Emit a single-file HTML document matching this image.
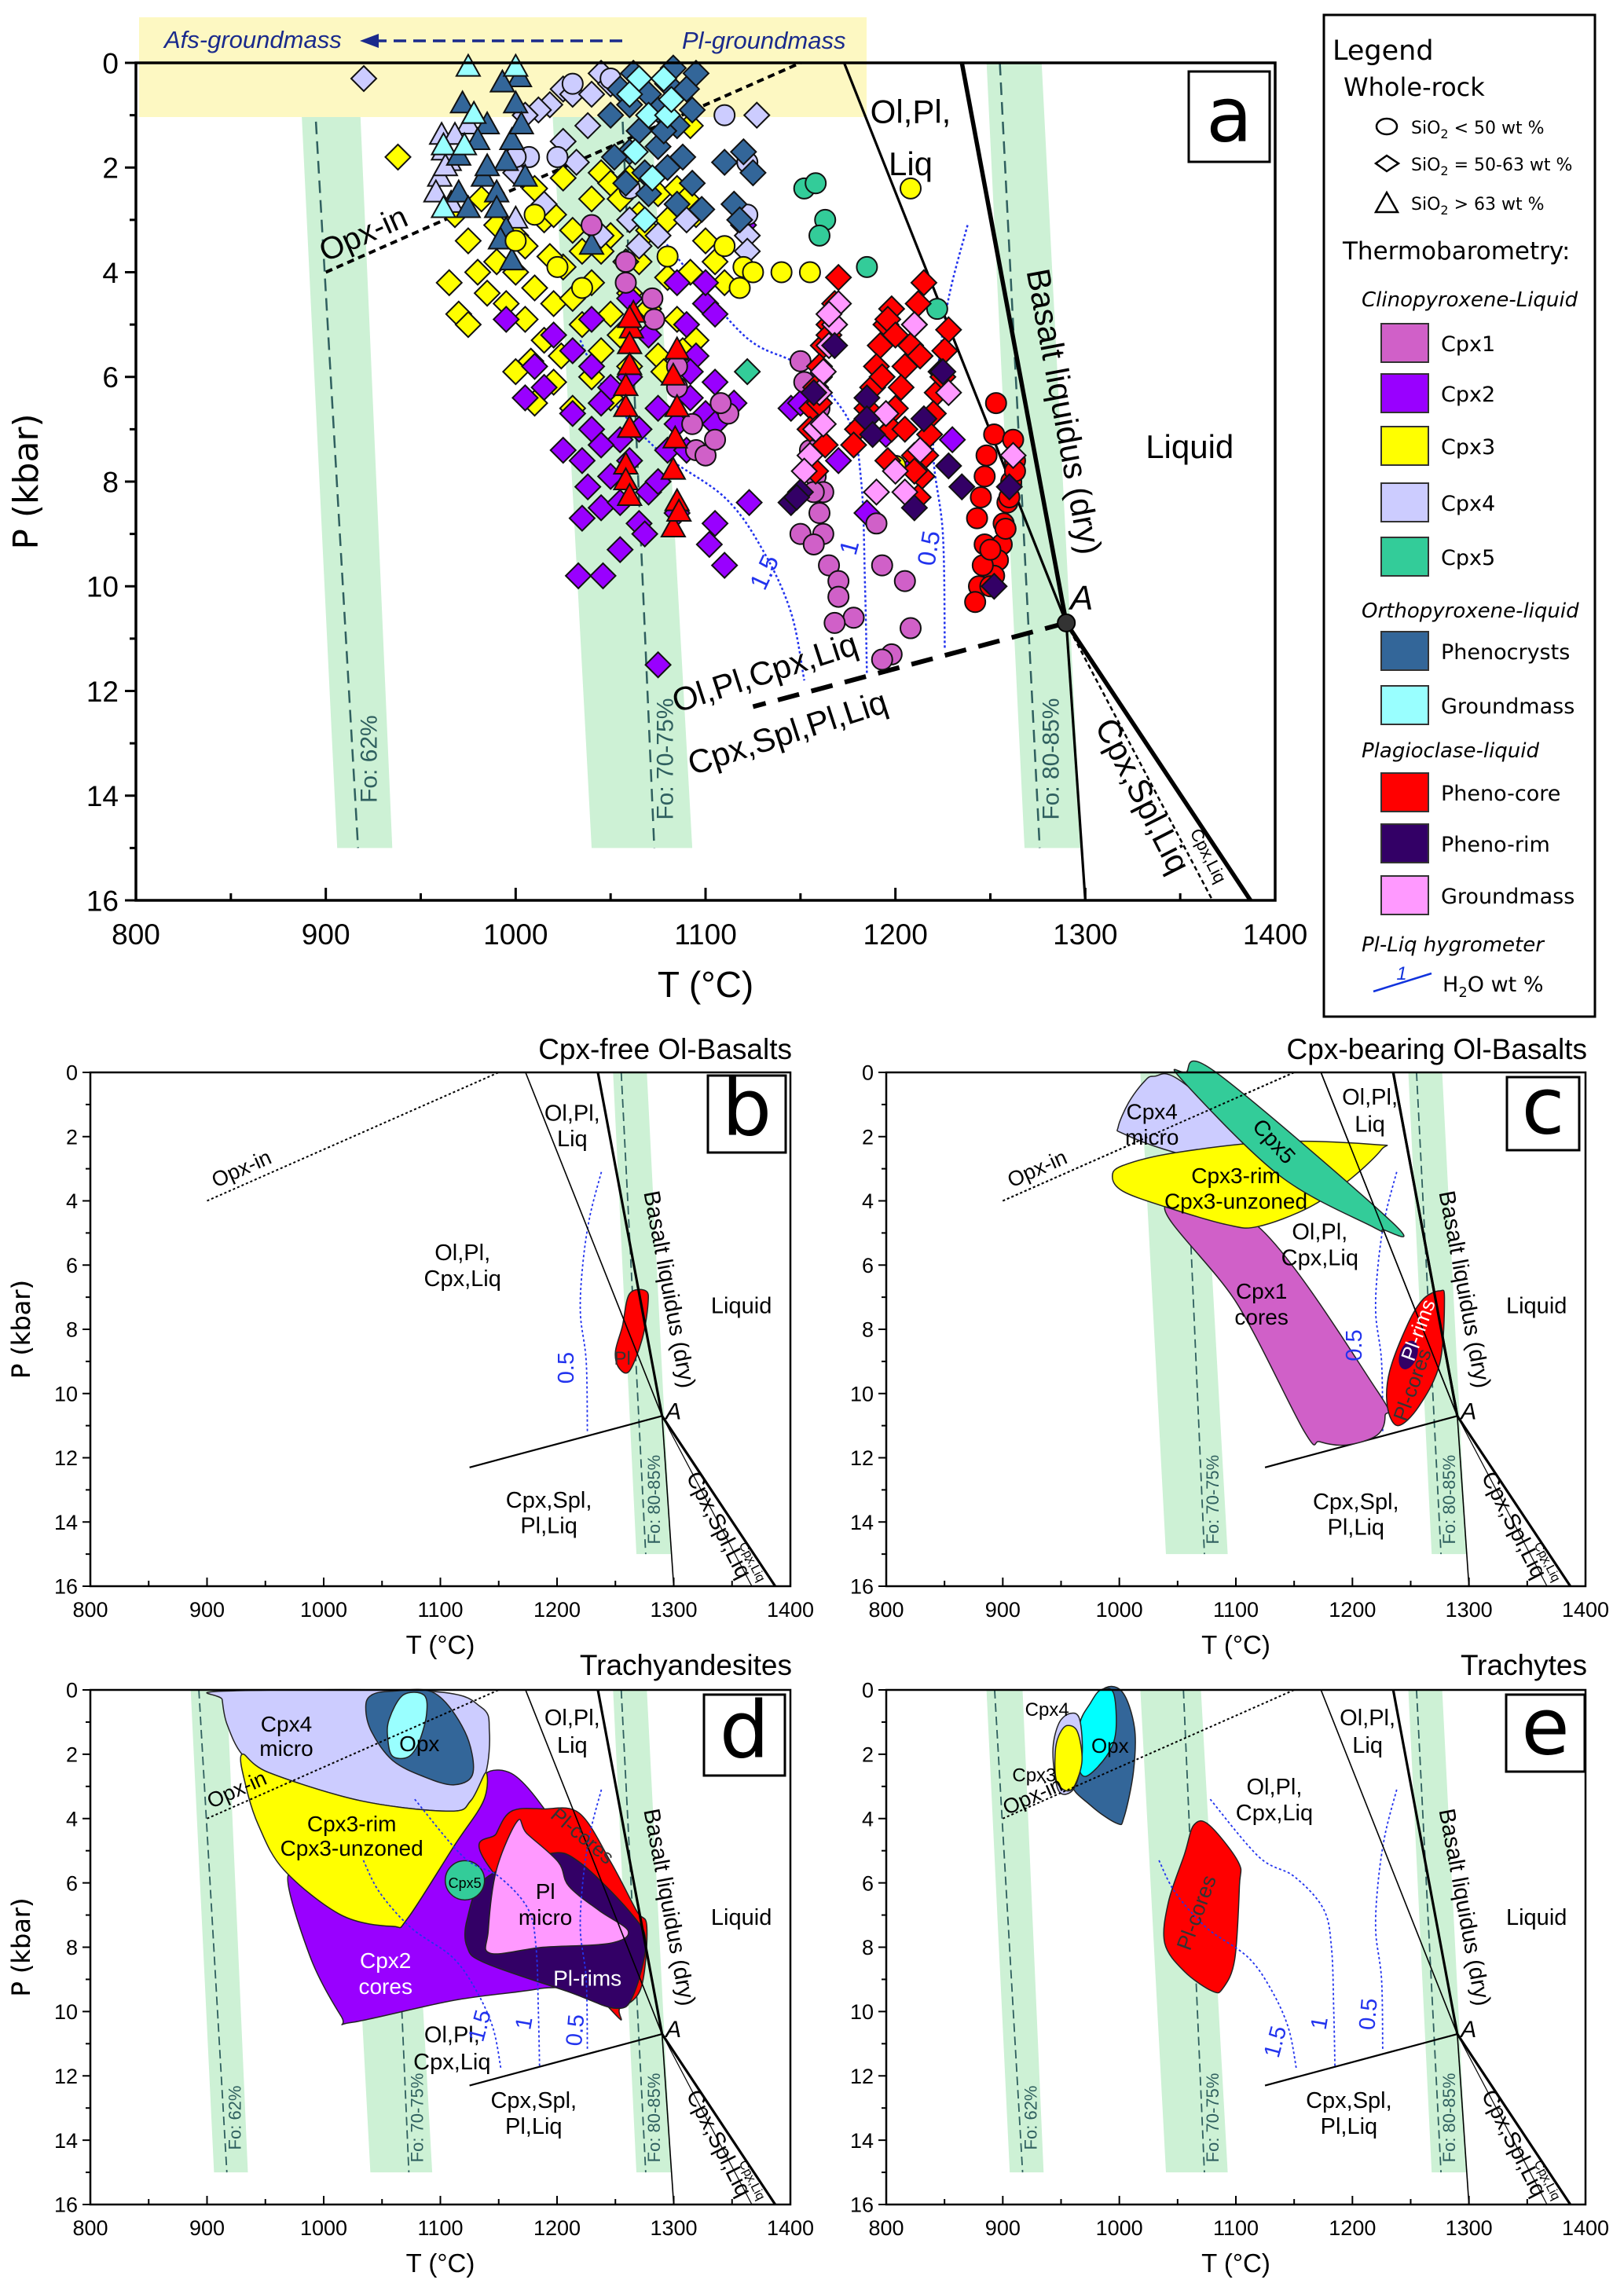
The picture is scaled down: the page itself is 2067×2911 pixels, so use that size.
<!DOCTYPE html>
<html><head><meta charset="utf-8"><style>
html,body{margin:0;padding:0;background:#fff}
svg{display:block;font-family:"Liberation Sans",Arial,sans-serif}
</style></head><body>
<svg id="fig" width="2067" height="2911" viewBox="0 0 2067 2911" xmlns="http://www.w3.org/2000/svg"></svg>
<script>
// ---------- data (T °C, P kbar) ----------
const cpx3Dia=[[938,1.8],[968,2.9],[975,3.4],[982,2.6],[990,3.1],[1000,3.3],[1010,2.4],[1015,3.0],[1020,2.9],[1025,2.2],[1030,3.2],[1040,2.6],[1045,2.1],[1050,2.3],[1055,2.6],[1060,2.2],[1065,2.9],[1070,3.2],[1075,2.5],[1080,3.0],[1085,2.4],[1090,2.6],[1095,2.9],[1100,3.4],[1105,3.8],[1110,4.2],[1092,1.2],[1080,4.1],[965,4.2],[970,4.8],[975,5.0],[985,4.4],[990,3.8],[995,4.6],[1000,4.0],[1005,4.9],[1010,4.3],[1015,5.3],[1020,4.6],[1025,3.9],[1030,4.5],[1035,5.0],[1040,4.2],[1045,5.5],[1050,4.8],[1055,5.2],[1060,4.4],[1065,3.8],[1070,4.7],[1075,5.6],[1085,4.9],[1095,5.3],[1100,4.6],[1000,5.9],[1010,6.5],[1020,6.1],[1030,6.6],[1040,6.0],[1050,6.4],[1060,5.8],[1045,3.6],[1035,3.6],[1050,3.3],[1078,5.9],[1088,5.5],[1024,5.6],[1008,5.7],[1005,3.5],[1018,3.7],[1058,3.8],[980,4.0],[1092,4.0]];
const cpx2Dia=[[1030,5.5],[1040,5.8],[1050,6.2],[1060,6.0],[1030,6.7],[1040,7.0],[1045,6.5],[1055,7.2],[1060,7.6],[1065,7.0],[1035,7.6],[1025,7.4],[1050,7.9],[1070,8.2],[1065,8.8],[1045,8.5],[1035,8.7],[1055,9.3],[1033,9.8],[1046,9.8],[1075,8.0],[1080,7.4],[1075,6.6],[1070,5.2],[1085,6.9],[1090,7.4],[1092,6.4],[1100,6.7],[1105,6.1],[1095,5.6],[1090,5.0],[1100,4.6],[1105,4.8],[1085,4.2],[1100,4.2],[1120,3.1],[1105,6.9],[1115,6.5],[1123,8.4],[1105,8.8],[1102,9.2],[1110,9.6],[1145,6.6],[1150,6.5],[1160,6.0],[1170,7.6],[1185,8.6],[1195,7.1],[1210,7.7],[1230,7.2],[1075,11.5],[1010,5.8],[1005,6.4],[1015,6.2],[1055,8.4],[1060,4.5],[995,4.9],[1045,7.3],[1038,8.1],[1068,9.0],[1085,8.6],[1040,4.9],[1092,5.9],[1020,5.2]];
const cpx4Dia=[[920,0.3],[1025,0.5],[1030,0.6],[1038,1.2],[1045,0.2],[1050,0.4],[1018,0.8],[1025,1.5],[1032,1.9],[1012,0.9],[1005,1.0],[1127,1.0],[1122,3.3],[1122,3.6],[1060,3.0],[1065,3.5],[1045,3.3],[1075,3.3],[1090,3.0],[1040,0.6],[1015,2.7],[1000,2.1]];
const cpx4Tri=[[961,1.4],[962,1.7],[965,1.9],[960,2.2],[958,2.5],[966,2.7],[963,2.0],[975,1.2],[968,1.4],[1000,3.0]];
const cpx4Cir=[[1030,0.4],[1050,0.3],[1022,1.8],[1007,1.8],[1000,1.8],[1122,1.9],[1122,2.9],[1110,1.0],[1060,2.4]];
const opxPhTri=[[972,0.8],[978,1.0],[970,1.8],[983,2.2],[990,2.5],[995,1.9],[998,1.5],[1000,0.8],[1002,0.3],[993,0.4],[985,1.2],[970,2.5],[975,2.8],[990,2.8],[995,3.2],[998,3.8],[985,2.0],[1005,2.2],[980,1.5],[992,3.4],[1003,1.2],[1040,3.5]];
const opxPhDia=[[1050,1.0],[1055,0.5],[1060,0.8],[1065,1.3],[1070,0.6],[1075,0.9],[1080,0.4],[1085,1.2],[1090,0.5],[1093,0.9],[1060,1.7],[1068,2.1],[1075,1.6],[1080,2.0],[1088,1.8],[1093,2.3],[1070,2.5],[1058,2.3],[1085,2.7],[1120,1.7],[1125,2.1],[1115,2.7],[1118,3.0],[1062,0.2],[1078,1.3],[1052,1.8],[1083,0.1],[1095,0.2],[1098,2.8],[1110,1.9]];
const opxGmTri=[[975,0.1],[962,1.6],[973,1.6],[962,2.8],[978,1.0],[1000,0.1]];
const opxGmDia=[[1060,0.6],[1065,0.3],[1070,1.0],[1078,0.3],[1080,1.0],[1063,1.7],[1072,2.2],[1082,0.7],[1068,3.0]];
const cpx1Cir=[[1040,3.1],[1058,3.8],[1058,4.2],[1072,4.5],[1073,4.9],[1085,6.2],[1093,6.9],[1095,7.4],[1100,7.5],[1105,7.2],[1112,6.7],[1150,5.7],[1152,6.1],[1155,7.4],[1158,7.9],[1160,8.6],[1162,9.0],[1165,9.6],[1170,9.9],[1178,10.6],[1168,10.7],[1190,8.8],[1193,9.6],[1205,9.9],[1198,11.3],[1208,10.8],[1193,11.4],[1162,8.2],[1160,6.6],[1157,8.2],[1108,6.5],[1085,5.8],[1170,10.2],[1150,9.0],[1157,9.2]];
const cpx3Cir=[[1208,2.4],[1110,3.5],[1000,3.4],[1022,3.9],[1080,3.7],[1120,3.9],[1125,4.0],[1118,4.3],[1140,4.0],[1155,4.0],[1200,7.7],[1010,2.9],[1035,4.3]];
const cpx5Cir=[[1152,2.4],[1158,2.3],[1163,3.0],[1160,3.3],[1185,3.9],[1222,4.7]];
const cpx5Dia=[[1122,5.9]];
const plCoreDia=[[1170,4.1],[1168,4.6],[1165,5.0],[1162,5.4],[1160,5.8],[1158,6.2],[1156,6.6],[1155,7.0],[1160,6.5],[1163,7.3],[1158,7.8],[1165,5.2],[1198,4.7],[1195,5.0],[1192,5.4],[1190,5.8],[1188,6.2],[1185,6.6],[1180,7.0],[1178,7.3],[1196,4.9],[1193,6.0],[1200,5.2],[1215,4.2],[1212,4.6],[1210,5.0],[1208,5.4],[1205,5.8],[1203,6.2],[1200,6.6],[1198,7.0],[1196,7.6],[1210,7.5],[1205,7.0],[1213,5.6],[1228,5.1],[1226,5.5],[1224,5.9],[1222,6.3],[1220,6.7],[1218,7.1],[1216,7.5],[1214,7.9],[1212,8.3],[1225,6.0],[1210,7.8]];
const plCoreCir=[[1253,6.5],[1252,7.1],[1262,7.2],[1263,7.6],[1261,8.0],[1259,8.4],[1257,8.8],[1256,9.2],[1254,9.5],[1252,9.8],[1248,7.5],[1247,7.9],[1245,8.3],[1243,8.7],[1247,9.2],[1246,9.6],[1244,10.0],[1242,10.3],[1250,10.0],[1263,7.8],[1260,8.3],[1258,8.9],[1250,9.3]];
const plCoreTri=[[1062,4.8],[1061,5.1],[1060,5.4],[1060,5.8],[1058,6.2],[1058,6.6],[1060,7.0],[1058,7.7],[1058,8.0],[1060,8.3],[1085,5.5],[1083,6.0],[1085,6.6],[1084,7.2],[1083,7.8],[1085,8.4],[1083,8.9],[1086,8.6],[1060,4.9]];
const plRimDia=[[1157,6.3],[1145,8.4],[1150,8.2],[1185,6.4],[1185,6.8],[1188,7.1],[1215,6.8],[1210,8.5],[1225,5.9],[1228,7.7],[1235,8.1],[1260,8.1],[1252,10.0],[1168,5.4],[1148,8.3]];
const plGmDia=[[1170,4.6],[1168,5.0],[1165,5.4],[1162,5.9],[1160,6.3],[1158,7.0],[1155,7.5],[1152,7.8],[1162,6.9],[1195,6.7],[1210,5.0],[1200,7.8],[1213,7.4],[1228,6.3],[1205,8.2],[1262,7.5],[1190,8.2],[1165,4.8]];
// phase boundaries
const ptA=[1290,10.7];
const opxIn=[[900,4],[1150,0]];
const olPlLiq=[[1173,0],ptA];
const basaltLiq=[[1235,0],ptA];
const cpxSplLine=[ptA,[1300,16]];
const thickLow=[ptA,[1387,16]];
const cpxLiqLine=[ptA,[1367,16]];
const cpxBoundary=[ptA,[1125,12.3]];
const h2o05=[[1238,3.1],[1228,4.5],[1222,6.0],[1220,7.5],[1225,9.0],[1226,11.2]];
const h2o1=[[1078,3.4],[1120,5.2],[1150,5.8],[1175,6.8],[1182,8],[1184,10],[1185,11.7]];
const h2o15=[[1034,5.3],[1048,6.3],[1075,7.4],[1110,8.3],[1130,9.3],[1145,10.5],[1152,11.8]];
const fo62=[[886,0],[917,0],[935,15],[906,15]], fo62d=[[893,0],[917,15]];
const fo70=[[1018,0],[1070,0],[1093,15],[1040,15]], fo70d=[[1055,0],[1073,15]];
const fo80=[[1248,0],[1277,0],[1298,15],[1268,15]], fo80d=[[1255,0],[1276,15]];
// field polygons
const bPl=[[1262,6.9],[1276,6.8],[1278,7.2],[1273,8.3],[1262,9.3],[1253,9.2],[1250,8.7],[1256,7.9]];
const cCpx4=[[1030,0.12],[1054,0.3],[1132,2.8],[1128,3.06],[1110,3.08],[1039,2.4],[1003,1.9],[999,1.7],[1008,0.94],[1021,0.3]];
const cCpx3=[[1003,2.9],[1048,2.5],[1137,2.15],[1221,2.25],[1225,2.4],[1199,3.3],[1163,4.2],[1119,4.8],[1092,4.74],[1039,4.18],[1003,3.7],[994,3.25]];
const cCpx5=[[1057,0],[1083,0],[1235,4.7],[1226,4.9],[1217,4.8],[1137,3.2],[1053,0.2]];
const cCpx1=[[1039,4.18],[1119,4.8],[1221,9.9],[1228,10.7],[1221,11.3],[1195,11.6],[1172,11.5],[1159,11.2],[1101,7.2]];
const cPl=[[1261,7.05],[1275,6.8],[1279,7.05],[1275,9.05],[1257,10.4],[1239,11],[1230,10.4],[1232,9.3],[1248,7.8]];
const dCpx2=[[1139,2.6],[1161,2.6],[1185,3.5],[1200,4.5],[1220,7],[1210,9.0],[1183,9.3],[1112,9.65],[1024,10.34],[1015,10.15],[988,8.26],[970,5.73],[1015,7.0],[1059,7.35],[1072,7.1],[1112,4.84],[1137,3.45]];
const dCpx4=[[913,0.04],[1090,0.04],[1135,0.54],[1142,1.3],[1139,2.57],[1126,3.45],[1108,3.77],[1032,3.45],[953,2.57],[930,2.0],[917,1.05],[913,0.3]];
const dCpx3=[[930,2.0],[953,2.57],[1032,3.45],[1108,3.77],[1126,3.45],[1139,2.57],[1137,3.45],[1112,4.84],[1072,7.1],[1059,7.35],[1015,7.0],[966,5.6],[944,4.2],[933,2.95]];
const dOpx=[[1041,0.16],[1059,0.04],[1095,0.1],[1121,1.3],[1128,2.57],[1112,2.95],[1086,2.7],[1059,2.19],[1041,1.3],[1036,0.54]];
const dOpxGm=[[1068,0.16],[1086,0.16],[1088,0.8],[1081,1.68],[1072,2.09],[1059,2.06],[1055,1.55],[1056,0.92]];
const dPlCore=[[1161,3.77],[1188,3.7],[1219,3.83],[1246,5.35],[1268,6.86],[1277,7.37],[1272,9.27],[1254,9.9],[1245,9.9],[1139,5.35],[1148,4.46]];
const dPlRim=[[1192,5.1],[1219,5.35],[1264,6.97],[1276,7.88],[1265,9.52],[1250,9.9],[1210,9.39],[1139,8.5],[1123,8.0],[1123,7.12],[1139,5.85]];
const dPlMicro=[[1166,4.08],[1174,4.46],[1201,5.35],[1210,6.1],[1236,6.86],[1261,7.5],[1245,7.88],[1188,8.0],[1143,8.19],[1141,7.5],[1148,5.6]];
const eOpx=[[984,0.04],[1002,0.04],[1013,1.18],[1012,2.57],[1004,3.96],[998,4.15],[975,3.58],[958,2.82],[966,1.3]];
const eOpxGm=[[984,0],[995,0.1],[997,1.3],[989,2.06],[971,2.69],[964,2.19],[966,1.05],[975,0.42]];
const eCpx4=[[958,0.73],[966,0.92],[968,2.06],[961,3.07],[948,3.14],[943,1.93],[948,1.05]];
const eCpx3=[[955,1.11],[964,1.3],[968,2.19],[962,2.95],[955,3.14],[946,2.82],[945,1.93],[948,1.43]];
const ePl=[[1064,4.2],[1077,4.2],[1102,5.35],[1103,6.1],[1099,8.38],[1089,9.27],[1080,9.37],[1056,8.76],[1039,7.88],[1042,6.61],[1056,5.1]];
const xTicks=[800,900,1000,1100,1200,1300,1400];
const yTicks=[0,2,4,6,8,10,12,14,16];

// ---------- helpers ----------
const NS="http://www.w3.org/2000/svg";
const svg=document.getElementById('fig');
function mk(tag,attrs,parent,name,inter){
  const el=document.createElementNS(NS,tag);
  for(const k in attrs) el.setAttribute(k,attrs[k]);
  
  
  (parent||svg).appendChild(el);
  return el;
}
function txt(parent,x,y,s,size,opts,name){
  opts=opts||{};
  const a={x:x,y:y,'font-size':size,fill:opts.fill||'#000','text-anchor':opts.anchor||'middle'};
  if(opts.italic) a['font-style']='italic';
  if(opts.bold) a['font-weight']='bold';
  if(opts.rot!==undefined) a.transform='rotate('+opts.rot+' '+x+' '+y+')';
  if(opts.family) a['font-family']=opts.family;
  const t=mk('text',a,parent,name,false);
  t.textContent=s;
  return t;
}
const PANELS={
  a:{x0:173,x1:1623,y0:80,y1:1146,big:true},
  b:{x0:115,x1:1006,y0:1365,y1:2019},
  c:{x0:1128,x1:2018,y0:1365,y1:2019},
  d:{x0:115,x1:1006,y0:2151,y1:2806},
  e:{x0:1128,x1:2018,y0:2151,y1:2806}
};
function sx(p,T){return p.x0+(T-800)/600*(p.x1-p.x0);}
function sy(p,P){return p.y0+P/16*(p.y1-p.y0);}
function pts(p,arr){return arr.map(d=>sx(p,d[0]).toFixed(1)+','+sy(p,d[1]).toFixed(1)).join(' ');}
function smoothPath(p,arr){
  const q=arr.map(d=>[sx(p,d[0]),sy(p,d[1])]);
  let s='M'+q[0][0]+','+q[0][1];
  for(let i=0;i<q.length-1;i++){
    const p0=q[Math.max(0,i-1)],p1=q[i],p2=q[i+1],p3=q[Math.min(q.length-1,i+2)];
    const c1=[p1[0]+(p2[0]-p0[0])/6,p1[1]+(p2[1]-p0[1])/6];
    const c2=[p2[0]-(p3[0]-p1[0])/6,p2[1]-(p3[1]-p1[1])/6];
    s+=' C'+c1[0]+','+c1[1]+' '+c2[0]+','+c2[1]+' '+p2[0]+','+p2[1];
  }
  return s;
}
function closedSmooth(p,arr){
  const q=arr.map(d=>[sx(p,d[0]),sy(p,d[1])]);const n=q.length;
  let s='M'+q[0][0]+','+q[0][1];
  for(let i=0;i<n;i++){
    const p0=q[(i-1+n)%n],p1=q[i],p2=q[(i+1)%n],p3=q[(i+2)%n];
    const c1=[p1[0]+(p2[0]-p0[0])/6,p1[1]+(p2[1]-p0[1])/6];
    const c2=[p2[0]-(p3[0]-p1[0])/6,p2[1]-(p3[1]-p1[1])/6];
    s+=' C'+c1[0].toFixed(1)+','+c1[1].toFixed(1)+' '+c2[0].toFixed(1)+','+c2[1].toFixed(1)+' '+p2[0].toFixed(1)+','+p2[1].toFixed(1);
  }
  return s+'Z';
}
function line(g,p,seg,w,dash,name,col){
  const a={x1:sx(p,seg[0][0]),y1:sy(p,seg[0][1]),x2:sx(p,seg[1][0]),y2:sy(p,seg[1][1]),stroke:col||'#000','stroke-width':w};
  if(dash) a['stroke-dasharray']=dash;
  return mk('line',a,g,name,false);
}
function field(g,p,arr,fill,name,stroke){
  return mk('path',{d:closedSmooth(p,arr),fill:fill,stroke:stroke||'#222','stroke-width':1.5},g,name,false);
}

function axes(key,opts){
  const p=PANELS[key];const big=p.big;
  const g=mk('g',{},svg,'panel-'+key+'-axes',false);
  const fs=big?37:27;
  mk('rect',{x:p.x0,y:p.y0,width:p.x1-p.x0,height:p.y1-p.y0,fill:'none',stroke:'#000','stroke-width':big?3.5:2.5},g,'panel-'+key+'-frame',false);
  for(let T=800;T<=1400;T+=50){
    const maj=(T%100===0);
    mk('line',{x1:sx(p,T),x2:sx(p,T),y1:p.y1,y2:p.y1-(maj?(big?16:11):(big?9:7)),stroke:'#000','stroke-width':big?3:2},g,'x-tick',false);
  }
  for(let P=0;P<=16;P+=1){
    const maj=(P%2===0);
    mk('line',{x1:p.x0,x2:p.x0-(maj?(big?14:10):(big?8:6)),y1:sy(p,P),y2:sy(p,P),stroke:'#000','stroke-width':big?3:2},g,'y-tick',false);
  }
  xTicks.forEach(T=>txt(g,sx(p,T),p.y1+(big?56:39),String(T),fs,{},'x-tick-label'));
  yTicks.forEach(P=>txt(g,p.x0-(big?22:16),sy(p,P)+fs*0.36,String(P),fs,{anchor:'end'},'y-tick-label'));
  txt(g,(p.x0+p.x1)/2,p.y1+(big?123:86),'T (°C)',big?46:33,{},'x-axis-title');
  const yx=big?48:38, yy=(p.y0+p.y1)/2;
  txt(g,yx,yy,'P (kbar)',big?44:32,{rot:-90,family:'"DejaVu Sans",sans-serif'},'y-axis-title');
}

function phase(key,o){
  const p=PANELS[key];const big=p.big;
  const g=mk('g',{},svg,'panel-'+key+'-phase-diagram',false);
  const bandFill='#cdf1d5';
  const fos=[[fo62,fo62d,'Fo: 62%','fo-62'],[fo70,fo70d,'Fo: 70-75%','fo-70-75'],[fo80,fo80d,'Fo: 80-85%','fo-80-85']];
  o.bands.forEach(i=>{
    const f=fos[i];
    mk('polygon',{points:pts(p,f[0]),fill:bandFill},g,f[3]+'-band',false);
    line(g,p,f[1],big?2.5:1.8,big?'16,9':'11,6',f[3]+'-line','#2f5f5f');
    const lx=sx(p,f[1][1][0])+(big?24:18), ly=sy(p,13.3);
    txt(g,lx,ly,f[2],big?30:22,{rot:-90,fill:'#2f5f5f'},f[3]+'-label');
  });
  if(big){
    mk('rect',{x:177,y:22,width:926,height:127,fill:'#fdf8c2'},g,'groundmass-zone',false);
  }
  return g;
}
function lines(key,g){
  const p=PANELS[key];const big=p.big;
  line(g,p,opxIn,big?4:2,big?'9,6':'3,3','opx-in-line');
  line(g,p,olPlLiq,big?3.2:1.6,null,'ol-pl-liq-boundary');
  line(g,p,basaltLiq,big?5.5:3.2,null,'basalt-liquidus-line');
  line(g,p,cpxSplLine,big?3.2:1.6,null,'cpx-spl-liq-boundary');
  line(g,p,thickLow,big?5.5:3.2,null,'high-pressure-liquidus');
  line(g,p,cpxLiqLine,big?2.5:1.2,big?'6,4':null,'cpx-liq-boundary');
  line(g,p,cpxBoundary,big?6:2.2,big?'28,16':null,'cpx-spinel-boundary');
}
function contours(key,g,list){
  const p=PANELS[key];const big=p.big;
  const all={'0.5':h2o05,'1':h2o1,'1.5':h2o15};
  list.forEach(k=>{
    mk('path',{d:smoothPath(p,all[k]),fill:'none',stroke:'#2233ee','stroke-width':big?2.5:1.8,'stroke-dasharray':'3,3'},g,'h2o-contour-'+k,false);
  });
}
function labels(key,g,arr){
  const p=PANELS[key];
  arr.forEach(a=>{
    txt(g,sx(p,a[0]),sy(p,a[1]),a[2],a[3],a[4]||{},a[5]||'phase-field-label');
  });
}
function letter(key,x,y,w,h,ch){
  const g=mk('g',{},svg,'panel-'+key+'-letter-box',false);
  mk('rect',{x:x,y:y,width:w,height:h,fill:'#fff',stroke:'#000','stroke-width':3},g,'letter-box',false);
  txt(g,x+w/2,y+h*0.77,ch,key==='a'?96:100,{family:'"DejaVu Sans",sans-serif'},'panel-letter-'+ch);
}

// ---------- markers ----------
function marker(g,p,shape,d,fill,name){
  const x=sx(p,d[0]),y=sy(p,d[1]);
  if(shape==='dia'){
    return mk('polygon',{points:(x)+','+(y-16)+' '+(x+16)+','+y+' '+x+','+(y+16)+' '+(x-16)+','+y,fill:fill,stroke:'#111','stroke-width':2},g,name,false);
  } else if(shape==='tri'){
    return mk('polygon',{points:x+','+(y-17)+' '+(x+15)+','+(y+10)+' '+(x-15)+','+(y+10),fill:fill,stroke:'#111','stroke-width':2},g,name,false);
  }
  return mk('circle',{cx:x,cy:y,r:13,fill:fill,stroke:'#111','stroke-width':2},g,name,false);
}

// ================= PANEL A =================
(function(){
  const p=PANELS.a;
  const g=phase('a',{bands:[0,1,2]});
  contours('a',g,['0.5','1','1.5']);
  lines('a',g);
  const s=mk('g',{},svg,'panel-a-scatter',false);
  const groups=[
    [cpx3Dia,'dia','#ffff00','cpx3-point'],[cpx2Dia,'dia','#9900ff','cpx2-point'],
    [cpx4Dia,'dia','#ccccff','cpx4-point'],[cpx4Tri,'tri','#ccccff','cpx4-point'],[cpx4Cir,'cir','#ccccff','cpx4-point'],
    [opxPhTri,'tri','#336699','opx-phenocryst-point'],[opxPhDia,'dia','#336699','opx-phenocryst-point'],
    [opxGmTri,'tri','#99ffff','opx-groundmass-point'],[opxGmDia,'dia','#99ffff','opx-groundmass-point'],
    [cpx1Cir,'cir','#d060c8','cpx1-point'],[cpx3Cir,'cir','#ffff00','cpx3-point'],
    [cpx5Cir,'cir','#33cc99','cpx5-point'],[cpx5Dia,'dia','#33cc99','cpx5-point'],
    [plCoreTri,'tri','#ff0000','pl-core-point'],[plCoreDia,'dia','#ff0000','pl-core-point'],[plCoreCir,'cir','#ff0000','pl-core-point'],
    [plGmDia,'dia','#ff99ff','pl-groundmass-point'],[plRimDia,'dia','#330066','pl-rim-point']
  ];
  groups.forEach(gr=>gr[0].forEach(d=>marker(s,p,gr[1],d,gr[2],gr[3])));
  mk('circle',{cx:sx(p,ptA[0]),cy:sy(p,ptA[1]),r:11,fill:'#333',stroke:'#000','stroke-width':2},s,'point-a-marker',false);
  const L=mk('g',{},svg,'panel-a-labels',false);
  labels('a',L,[
    [1208,1.15,'Ol,Pl,',42],[1208,2.15,'Liq',42],[1355,7.55,'Liquid',42],
    [1292,10.45,'A',44,{italic:true,anchor:'start'},'point-a-label'],
    [1283,6.7,'Basalt liquidus (dry)',42,{rot:79.4},'basalt-liquidus-label'],
    [1325,14.1,'Cpx,Spl,Liq',42,{rot:63}],[1362,15.2,'Cpx,Liq',22,{rot:63}],
    [1133,11.85,'Ol,Pl,Cpx,Liq',42,{rot:-18}],[1145,13.0,'Cpx,Spl,Pl,Liq',42,{rot:-18}],
    [922,3.45,'Opx-in',40,{rot:-24},'opx-in-label'],
    [1222,9.3,'0.5',32,{rot:-80,fill:'#2233ee'},'h2o-label'],[1180,9.3,'1',32,{rot:-75,fill:'#2233ee'},'h2o-label'],[1135,9.8,'1.5',32,{rot:-65,fill:'#2233ee'},'h2o-label']
  ]);
  const ann=mk('g',{},svg,'groundmass-annotation',false);
  txt(ann,209,61,'Afs-groundmass',31,{italic:true,anchor:'start',fill:'#1a2a8c'},'afs-groundmass-label');
  txt(ann,868,62,'Pl-groundmass',31,{italic:true,anchor:'start',fill:'#1a2a8c'},'pl-groundmass-label');
  mk('line',{x1:792,y1:52,x2:478,y2:52,stroke:'#1a2a8c','stroke-width':3.5,'stroke-dasharray':'16,9'},ann,'groundmass-arrow-line',false);
  mk('polygon',{points:'458,52 482,43 482,61',fill:'#1a2a8c'},ann,'groundmass-arrowhead',false);
  axes('a');
  letter('a',1513,91,103,115,'a');
})();

// ================= PANEL B =================
(function(){
  const p=PANELS.b;
  const g=phase('b',{bands:[2]});
  contours('b',g,['0.5']);
  field(g,p,bPl,'#ff0000','pl-field');
  lines('b',g);
  labels('b',g,[
    [1213,1.5,'Ol,Pl,',29],[1213,2.3,'Liq',29],[1358,7.5,'Liquid',29],
    [1293,10.8,'A',30,{italic:true,anchor:'start'},'point-a-label'],
    [1290,6.8,'Basalt liquidus (dry)',29,{rot:79.4},'basalt-liquidus-label'],
    [1333,14.2,'Cpx,Spl,Liq',29,{rot:63}],[1364,15.3,'Cpx,Liq',16,{rot:63}],
    [1119,5.85,'Ol,Pl,',29],[1119,6.65,'Cpx,Liq',29],
    [1193,13.55,'Cpx,Spl,',29],[1193,14.35,'Pl,Liq',29],
    [932,3.2,'Opx-in',27,{rot:-24},'opx-in-label'],
    [1256,9.1,'Pl',24,{fill:'#333'},'pl-label'],
    [1214,9.2,'0.5',29,{rot:-90,fill:'#2233ee'},'h2o-label']
  ]);
  axes('b');
  txt(svg,1008,1348,'Cpx-free Ol-Basalts',37,{anchor:'end'},'panel-b-title');
  letter('b',901,1369,99,98,'b');
})();

// ================= PANEL C =================
(function(){
  const p=PANELS.c;
  const g=phase('c',{bands:[1,2]});
  contours('c',g,['0.5']);
  lines('c',g);
  field(g,p,cCpx1,'#d060c8','cpx1-cores-field');
  field(g,p,cCpx4,'#ccccff','cpx4-micro-field');
  field(g,p,cCpx3,'#ffff00','cpx3-field');
  field(g,p,cCpx5,'#33cc99','cpx5-field');
  field(g,p,cPl,'#ff0000','pl-cores-field');
  mk('ellipse',{cx:sx(p,1248),cy:sy(p,8.8),rx:11,ry:19,fill:'#330066',transform:'rotate(20 '+sx(p,1248)+' '+sy(p,8.8)+')'},g,'pl-rims-field',false);
  line(g,p,opxIn,2,'3,3','opx-in-line-over');
  line(g,p,olPlLiq,1.6,null,'ol-pl-liq-boundary-over');
  line(g,p,basaltLiq,3.2,null,'basalt-liquidus-over');
  labels('c',g,[
    [1215,1.0,'Ol,Pl,',29],[1215,1.85,'Liq',29],[1358,7.5,'Liquid',29],
    [1293,10.8,'A',30,{italic:true,anchor:'start'},'point-a-label'],
    [1290,6.8,'Basalt liquidus (dry)',29,{rot:79.4},'basalt-liquidus-label'],
    [1333,14.2,'Cpx,Spl,Liq',29,{rot:63}],[1364,15.3,'Cpx,Liq',16,{rot:63}],
    [1172,5.2,'Ol,Pl,',29],[1172,6.0,'Cpx,Liq',29],
    [1203,13.6,'Cpx,Spl,',29],[1203,14.4,'Pl,Liq',29],
    [932,3.2,'Opx-in',27,{rot:-24},'opx-in-label'],
    [1028,1.45,'Cpx4',28],[1028,2.25,'micro',28],
    [1128,2.3,'Cpx5',28,{rot:48}],
    [1100,3.45,'Cpx3-rim',28],[1100,4.25,'Cpx3-unzoned',28],
    [1122,7.05,'Cpx1',28],[1122,7.85,'cores',28],
    [1262,8.1,'Pl-rims',26,{rot:-70,fill:'#fff'}],[1257,9.8,'Pl-cores',26,{rot:-70,fill:'#333'}],
    [1208,8.5,'0.5',29,{rot:-90,fill:'#2233ee'},'h2o-label']
  ]);
  axes('c');
  txt(svg,2020,1348,'Cpx-bearing Ol-Basalts',37,{anchor:'end'},'panel-c-title');
  letter('c',1918,1371,92,93,'c');
})();

// ================= PANEL D =================
(function(){
  const p=PANELS.d;
  const g=phase('d',{bands:[0,1,2]});
  field(g,p,dCpx2,'#9900ff','cpx2-cores-field');
  field(g,p,dCpx4,'#ccccff','cpx4-micro-field');
  field(g,p,dCpx3,'#ffff00','cpx3-field');
  field(g,p,dOpx,'#336699','opx-field');
  field(g,p,dOpxGm,'#99ffff','opx-groundmass-field');
  field(g,p,dPlCore,'#ff0000','pl-cores-field');
  field(g,p,dPlRim,'#330066','pl-rims-field');
  field(g,p,dPlMicro,'#ff99ff','pl-micro-field');
  mk('circle',{cx:sx(p,1121),cy:sy(p,5.92),r:25,fill:'#33cc99',stroke:'#222','stroke-width':1.5},g,'cpx5-field',false);
  contours('d',g,['0.5','1','1.5']);
  lines('d',g);
  labels('d',g,[
    [1213,1.1,'Ol,Pl,',29],[1213,1.95,'Liq',29],[1358,7.3,'Liquid',29],
    [1293,10.8,'A',30,{italic:true,anchor:'start'},'point-a-label'],
    [1290,6.8,'Basalt liquidus (dry)',29,{rot:79.4},'basalt-liquidus-label'],
    [1333,14.2,'Cpx,Spl,Liq',29,{rot:63}],[1364,15.3,'Cpx,Liq',16,{rot:63}],
    [1110,10.95,'Ol,Pl,',29],[1110,11.8,'Cpx,Liq',29],
    [1180,13.0,'Cpx,Spl,',29],[1180,13.8,'Pl,Liq',29],
    [928,3.3,'Opx-in',27,{rot:-24},'opx-in-label'],
    [968,1.3,'Cpx4',28],[968,2.05,'micro',28],[1082,1.9,'Opx',28],
    [1024,4.4,'Cpx3-rim',28],[1024,5.15,'Cpx3-unzoned',28],
    [1121,6.15,'Cpx5',18],
    [1218,4.7,'Pl-cores',26,{rot:40,fill:'#333'}],
    [1190,6.5,'Pl',28],[1190,7.3,'micro',28],
    [1226,9.2,'Pl-rims',28,{fill:'#fff'}],
    [1053,8.65,'Cpx2',28,{fill:'#fff'}],[1053,9.45,'cores',28,{fill:'#fff'}],
    [1140,10.5,'1.5',29,{rot:-75,fill:'#2233ee'},'h2o-label'],[1178,10.4,'1',29,{rot:-80,fill:'#2233ee'},'h2o-label'],[1222,10.6,'0.5',29,{rot:-85,fill:'#2233ee'},'h2o-label']
  ]);
  axes('d');
  txt(svg,1008,2132,'Trachyandesites',37,{anchor:'end'},'panel-d-title');
  letter('d',896,2157,103,103,'d');
})();

// ================= PANEL E =================
(function(){
  const p=PANELS.e;
  const g=phase('e',{bands:[0,1,2]});
  field(g,p,eOpx,'#336699','opx-field');
  field(g,p,eOpxGm,'#00ffff','opx-groundmass-field');
  field(g,p,eCpx4,'#ccccff','cpx4-field');
  field(g,p,eCpx3,'#ffff00','cpx3-field');
  field(g,p,ePl,'#ff0000','pl-cores-field');
  contours('e',g,['0.5','1','1.5']);
  lines('e',g);
  labels('e',g,[
    [1213,1.1,'Ol,Pl,',29],[1213,1.95,'Liq',29],[1358,7.3,'Liquid',29],
    [1293,10.8,'A',30,{italic:true,anchor:'start'},'point-a-label'],
    [1290,6.8,'Basalt liquidus (dry)',29,{rot:79.4},'basalt-liquidus-label'],
    [1333,14.2,'Cpx,Spl,Liq',29,{rot:63}],[1364,15.3,'Cpx,Liq',16,{rot:63}],
    [1133,3.25,'Ol,Pl,',29],[1133,4.05,'Cpx,Liq',29],
    [1197,13.0,'Cpx,Spl,',29],[1197,13.8,'Pl,Liq',29],
    [928,3.5,'Opx-in',27,{rot:-24},'opx-in-label'],
    [938,0.8,'Cpx4',24],[992,1.95,'Opx',26],[927,2.85,'Cpx3',24],
    [1072,7.0,'Pl-cores',27,{rot:-70,fill:'#333'}],
    [1140,11.0,'1.5',29,{rot:-75,fill:'#2233ee'},'h2o-label'],[1178,10.4,'1',29,{rot:-80,fill:'#2233ee'},'h2o-label'],[1220,10.1,'0.5',29,{rot:-85,fill:'#2233ee'},'h2o-label']
  ]);
  axes('e');
  txt(svg,2020,2132,'Trachytes',37,{anchor:'end'},'panel-e-title');
  letter('e',1917,2157,100,98,'e');
})();

// ================= LEGEND =================
(function(){
  const g=mk('g',{},svg,'legend',false);
  mk('rect',{x:1685,y:19,width:345,height:1275,fill:'#fff',stroke:'#000','stroke-width':3},g,'legend-box',false);
  const F='"DejaVu Sans",sans-serif';
  txt(g,1696,76,'Legend',35,{anchor:'start',family:F},'legend-title');
  txt(g,1710,122,'Whole-rock',32,{anchor:'start',family:F},'legend-whole-rock-heading');
  mk('ellipse',{cx:1765,cy:161,rx:13,ry:10,fill:'none',stroke:'#000','stroke-width':2.5},g,'legend-circle-symbol',false);
  mk('polygon',{points:'1751,208 1765,198 1780,208 1765,218',fill:'none',stroke:'#000','stroke-width':2.5},g,'legend-diamond-symbol',false);
  mk('polygon',{points:'1751,270 1765,245 1779,270',fill:'none',stroke:'#000','stroke-width':2.5},g,'legend-triangle-symbol',false);
  const sio=[[170,'SiO','2',' < 50 wt %'],[217,'SiO','2',' = 50-63 wt %'],[267,'SiO','2',' > 63 wt %']];
  sio.forEach((r,i)=>{
    const t=txt(g,1796,r[0],'',22,{anchor:'start',family:F},'legend-whole-rock-entry');
    const a=document.createElementNS(NS,'tspan');a.textContent=r[1];t.appendChild(a);
    const b=document.createElementNS(NS,'tspan');b.textContent=r[2];b.setAttribute('font-size','16');b.setAttribute('dy','6');t.appendChild(b);
    const c=document.createElementNS(NS,'tspan');c.textContent=r[3];c.setAttribute('dy','-6');t.appendChild(c);
  });
  txt(g,1709,330,'Thermobarometry:',31,{anchor:'start',family:F},'legend-thermobarometry-heading');
  txt(g,1733,390,'Clinopyroxene-Liquid',26,{anchor:'start',italic:true,family:F},'legend-cpx-heading');
  const sw=[[437,'#d060c8','Cpx1'],[501,'#9900ff','Cpx2'],[568,'#ffff00','Cpx3'],[640,'#ccccff','Cpx4'],[709,'#33cc99','Cpx5'],
            [829,'#336699','Phenocrysts'],[898,'#99ffff','Groundmass'],[1009,'#ff0000','Pheno-core'],[1074,'#330066','Pheno-rim'],[1140,'#ff99ff','Groundmass']];
  sw.forEach(s=>{
    mk('rect',{x:1758,y:s[0]-25,width:60,height:49,fill:s[1],stroke:'#333','stroke-width':2},g,'legend-swatch-'+s[2].toLowerCase(),false);
    txt(g,1834,s[0]+10,s[2],27,{anchor:'start',family:F},'legend-entry-'+s[2].toLowerCase());
  });
  txt(g,1733,786,'Orthopyroxene-liquid',26,{anchor:'start',italic:true,family:F},'legend-opx-heading');
  txt(g,1733,964,'Plagioclase-liquid',26,{anchor:'start',italic:true,family:F},'legend-pl-heading');
  txt(g,1733,1211,'Pl-Liq hygrometer',26,{anchor:'start',italic:true,family:F},'legend-hygrometer-heading');
  mk('line',{x1:1748,y1:1262,x2:1822,y2:1239,stroke:'#1133dd','stroke-width':2.5},g,'legend-h2o-line',false);
  txt(g,1784,1247,'1',24,{italic:true,fill:'#1133dd'},'legend-h2o-line-label');
  const t=txt(g,1836,1262,'',27,{anchor:'start',family:F},'legend-h2o-entry');
  const a=document.createElementNS(NS,'tspan');a.textContent='H';t.appendChild(a);
  const b=document.createElementNS(NS,'tspan');b.textContent='2';b.setAttribute('font-size','18');b.setAttribute('dy','7');t.appendChild(b);
  const c=document.createElementNS(NS,'tspan');c.textContent='O wt %';c.setAttribute('dy','-7');t.appendChild(c);
})();
</script>
</body></html>
